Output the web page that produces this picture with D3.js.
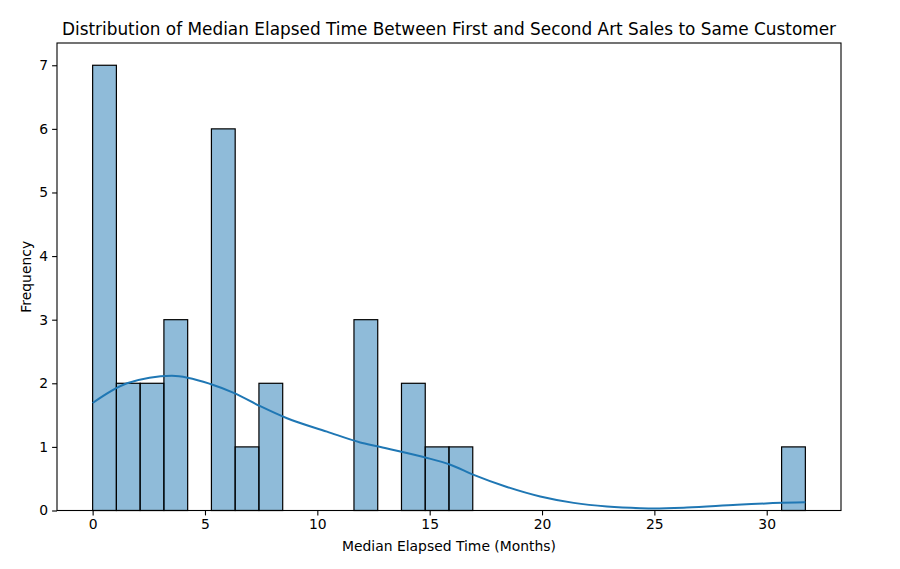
<!DOCTYPE html>
<html>
<head>
<meta charset="utf-8">
<script src="https://cdn.jsdelivr.net/npm/d3@7"></script>
<style>
  html, body { margin: 0; padding: 0; background: #fff; }
  svg text { font-family: "DejaVu Sans", sans-serif; fill: #000; }
</style>
</head>
<body>
<svg id="chart" width="900" height="569"></svg>
<script>
const title = "Distribution of Median Elapsed Time Between First and Second Art Sales to Same Customer";
const xLabel = "Median Elapsed Time (Months)";
const yLabel = "Frequency";

const dataMin = 0;
const dataMax = 31.72;
const binCounts = [7, 2, 2, 3, 0, 6, 1, 2, 0, 0, 0, 3, 0, 2, 1, 1, 0, 0, 0, 0, 0, 0, 0, 0, 0, 0, 0, 0, 0, 1];

const kdeX = [0, 1.53, 3.53, 5.24, 6.28, 7.46, 8.65, 10.43, 11.91, 12.66, 14.73, 15.92, 16.96, 18.44, 19.92, 21.41, 22.89, 24.37, 24.97, 26.45, 28.68, 30.68, 31.72];
const kdeY = [1.69, 2.0, 2.12, 1.99, 1.85, 1.64, 1.45, 1.24, 1.07, 1.01, 0.84, 0.72, 0.56, 0.37, 0.22, 0.12, 0.063, 0.037, 0.033, 0.047, 0.09, 0.12, 0.13];

const xTicks = [0, 5, 10, 15, 20, 25, 30];
const yTicks = [0, 1, 2, 3, 4, 5, 6, 7];

const svg = d3.select("#chart");
const m = { left: 57, right: 841, top: 43, bottom: 510.5 };

const span = dataMax - dataMin;
const x = d3.scaleLinear().domain([dataMin - 0.05 * span, dataMax + 0.05 * span]).range([m.left, m.right]);
const y = d3.scaleLinear().domain([0, d3.max(binCounts) * 1.05]).range([m.bottom, m.top]);

const binW = span / binCounts.length;
const bins = binCounts.map((c, i) => ({ x0: dataMin + i * binW, x1: dataMin + (i + 1) * binW, c }));

svg.append("g").selectAll("rect")
  .data(bins.filter(b => b.c > 0))
  .join("rect")
  .attr("x", d => x(d.x0))
  .attr("width", d => x(d.x1) - x(d.x0))
  .attr("y", d => y(d.c))
  .attr("height", d => y(0) - y(d.c))
  .attr("fill", "rgba(31,119,180,0.5)")
  .attr("stroke", "#000")
  .attr("stroke-width", 1.2);

const line = d3.line().x(d => x(d[0])).y(d => y(d[1])).curve(d3.curveMonotoneX);
svg.append("path")
  .datum(kdeX.map((v, i) => [v, kdeY[i]]))
  .attr("d", line)
  .attr("fill", "none")
  .attr("stroke", "#1f77b4")
  .attr("stroke-width", 2);

// axes
const xAxis = d3.axisBottom(x).tickValues(xTicks).tickSize(4.9).tickPadding(4).tickFormat(d3.format("d"));
const yAxis = d3.axisLeft(y).tickValues(yTicks).tickSize(4.9).tickPadding(4).tickFormat(d3.format("d"));

const gx = svg.append("g").attr("transform", `translate(0,${m.bottom})`).call(xAxis);
const gy = svg.append("g").attr("transform", `translate(${m.left},0)`).call(yAxis);
[gx, gy].forEach(g => {
  g.select(".domain").remove();
  g.selectAll(".tick line").attr("stroke", "#000").attr("stroke-width", 1.1);
  g.selectAll(".tick text").attr("font-size", "13.9px").attr("font-family", "DejaVu Sans, sans-serif").attr("fill", "#000");
});

// frame
svg.append("rect")
  .attr("x", m.left).attr("y", m.top)
  .attr("width", m.right - m.left).attr("height", m.bottom - m.top)
  .attr("fill", "none").attr("stroke", "#000").attr("stroke-width", 1.1);

svg.append("text")
  .attr("x", (m.left + m.right) / 2).attr("y", 35)
  .attr("text-anchor", "middle").attr("font-size", "16.9px")
  .text(title);

svg.append("text")
  .attr("x", (m.left + m.right) / 2).attr("y", 551)
  .attr("text-anchor", "middle").attr("font-size", "13.9px")
  .text(xLabel);

svg.append("text")
  .attr("transform", `translate(31,${(m.top + m.bottom) / 2}) rotate(-90)`)
  .attr("text-anchor", "middle").attr("font-size", "13.9px")
  .text(yLabel);
</script>
</body>
</html>
